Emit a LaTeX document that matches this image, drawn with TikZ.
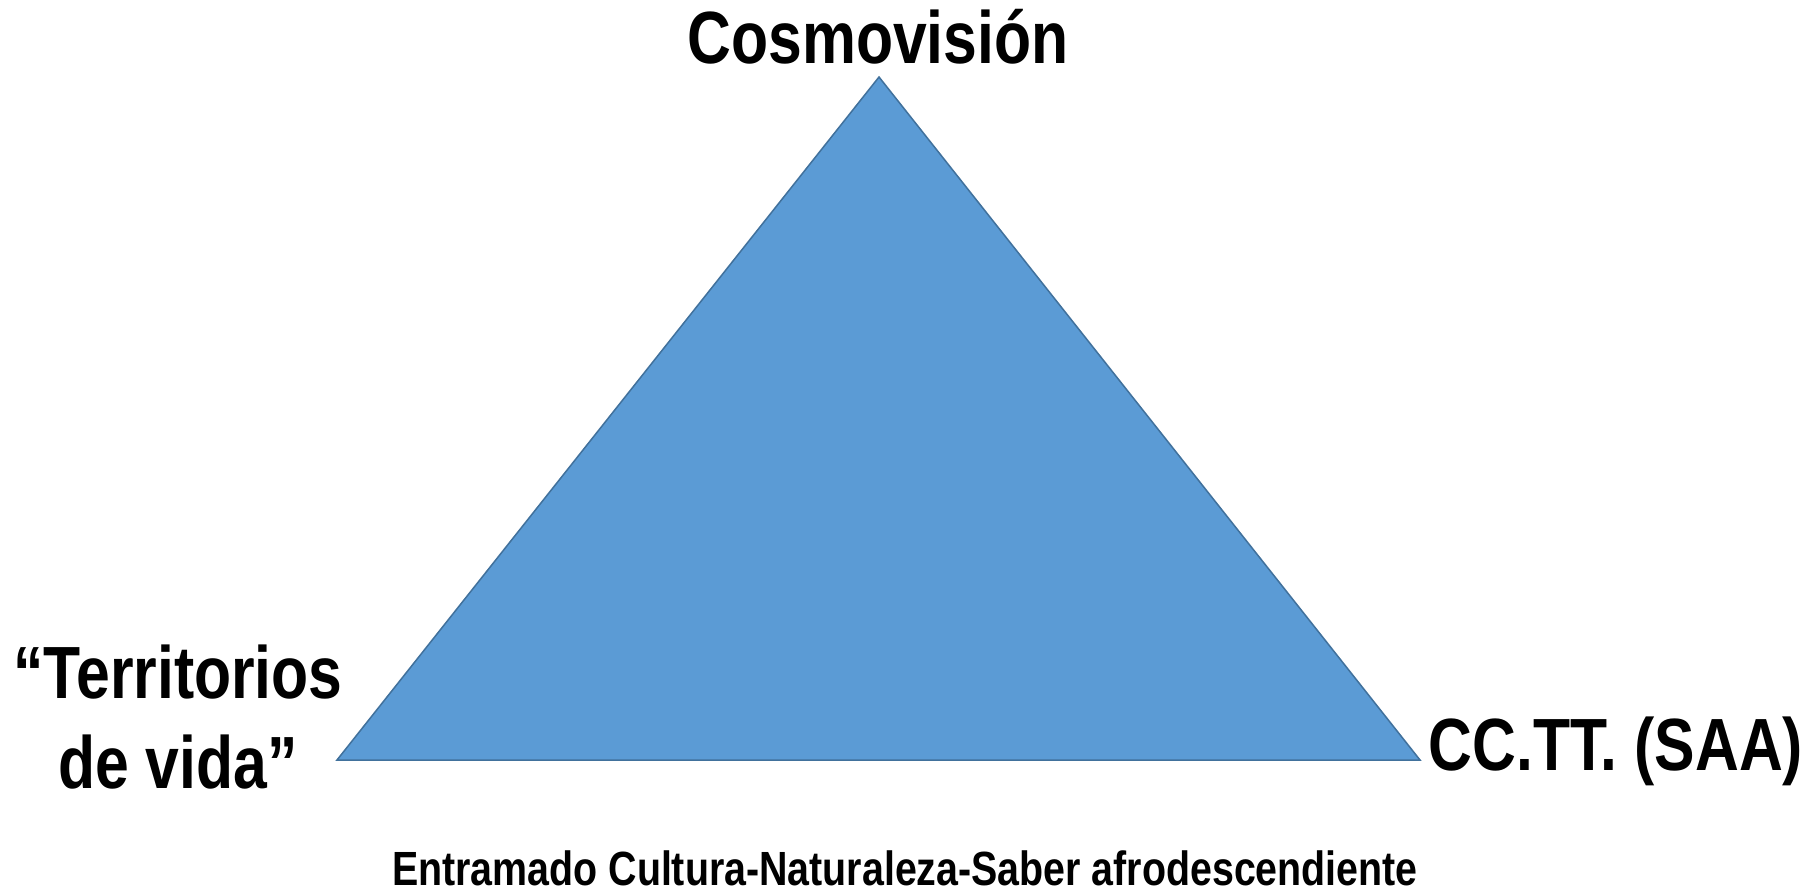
\documentclass[tikz,border=0pt]{standalone}
\usepackage{fontspec}
\setmainfont[FakeStretch=0.82]{Liberation Sans}
\definecolor{triblue}{HTML}{5B9BD5}
\definecolor{triedge}{HTML}{41719C}
\begin{document}
\begin{tikzpicture}[x=1pt, y=-1pt,
	lbl/.style={font=\bfseries\fontsize{74}{90}\selectfont, inner sep=0pt},
	caption/.style={font=\bfseries\fontsize{48}{54}\selectfont, inner sep=0pt}]
		\useasboundingbox (0,0) rectangle (1809,894);
		\coordinate (top) at (879,77);
		\coordinate (left) at (337,760);
		\coordinate (right) at (1420,760);
		\filldraw [fill=triblue, draw=triedge, line width=1.5pt] (top) -- (left) -- (right) -- cycle;
		\node [lbl, anchor=base] (cosmo) at (878,63) {Cosmovisión};
		\node [lbl, align=center] (terr) at (178,717) {“Territorios\\de vida”};
		\node [lbl, anchor=base] (cctt) at (1616,770) {CC.TT. (SAA)};
		\node [caption, anchor=base] (entramado) at (905,885) {Entramado Cultura-Naturaleza-Saber afrodescendiente};
	\end{tikzpicture}
\end{document}
